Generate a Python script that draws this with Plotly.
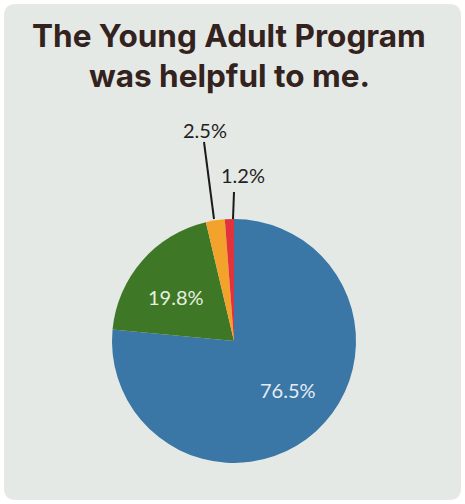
import math
import plotly.graph_objects as go

# ---- data ----
categories = ["Strongly agree", "Agree", "Somewhat agree", "Disagree"]
values = [76.5, 19.8, 2.5, 1.2]
colors = ["#3a76a6", "#3e7826", "#f3a22c", "#e2323c"]
title_lines = ["The Young Adult Program", "was helpful to me."]

W, H = 465, 504
CX, CY, R = 234, 341, 122  # pie center / radius in px


def px(x):
    return x / W


def py(y):
    return 1 - y / H


fig = go.Figure()
fig.add_trace(go.Pie(
    labels=categories,
    values=values,
    marker=dict(colors=colors, line=dict(width=0)),
    sort=False,
    direction="clockwise",
    rotation=0,
    textinfo="none",
    hoverinfo="label+percent",
    showlegend=False,
    domain=dict(x=[px(CX - R), px(CX + R)], y=[py(CY + R), py(CY - R)]),
))

# card background (rounded rectangle)
x0, x1, y0, y1 = px(4), px(461), py(500), py(4)
rx, ry = 12 / W, 12 / H
path = (f"M {x0+rx},{y0} L {x1-rx},{y0} Q {x1},{y0} {x1},{y0+ry} "
        f"L {x1},{y1-ry} Q {x1},{y1} {x1-rx},{y1} L {x0+rx},{y1} "
        f"Q {x0},{y1} {x0},{y1-ry} L {x0},{y0+ry} Q {x0},{y0} {x0+rx},{y0} Z")
shapes = [dict(type="path", path=path, xref="paper", yref="paper",
               fillcolor="#e5e9e5", line=dict(width=0), layer="below")]

# label placements (px): inside labels and outside labels with leader lines
label_pos = [(288, 390, "#e4ecf2"), (176, 297, "#e8efe0"),
             (205, 130, "#222222"), (243, 175, "#222222")]
leader = {2: ((204, 142), (214, 219)), 3: ((234, 192), (233, 219))}

annotations = []
for i, v in enumerate(values):
    lx, ly, col = label_pos[i]
    annotations.append(dict(
        x=px(lx), y=py(ly), xref="paper", yref="paper", text=f"{v}%",
        showarrow=False, xanchor="center", yanchor="middle",
        font=dict(family="Lato, sans-serif", size=20, color=col)))
    if i in leader:
        (ax, ay), (bx, by) = leader[i]
        shapes.append(dict(type="line", xref="paper", yref="paper",
                           x0=px(ax), y0=py(ay), x1=px(bx), y1=py(by),
                           line=dict(color="#1a1a1a", width=2)))

for j, t in enumerate(title_lines):
    annotations.append(dict(
        x=px(229), y=py(36 + 39 * j), xref="paper", yref="paper", text=f"<b>{t}</b>",
        showarrow=False, xanchor="center", yanchor="middle",
        font=dict(family="Inter, sans-serif", size=31.5, color="#33221e", weight=800)))

fig.update_layout(
    width=W, height=H,
    margin=dict(l=0, r=0, t=0, b=0),
    paper_bgcolor="#ffffff",
    plot_bgcolor="#ffffff",
    shapes=shapes,
    annotations=annotations,
)

fig.write_html("out.html", config={"displayModeBar": False},
               post_script="document.body.style.margin='0';document.body.style.overflow='hidden';")
